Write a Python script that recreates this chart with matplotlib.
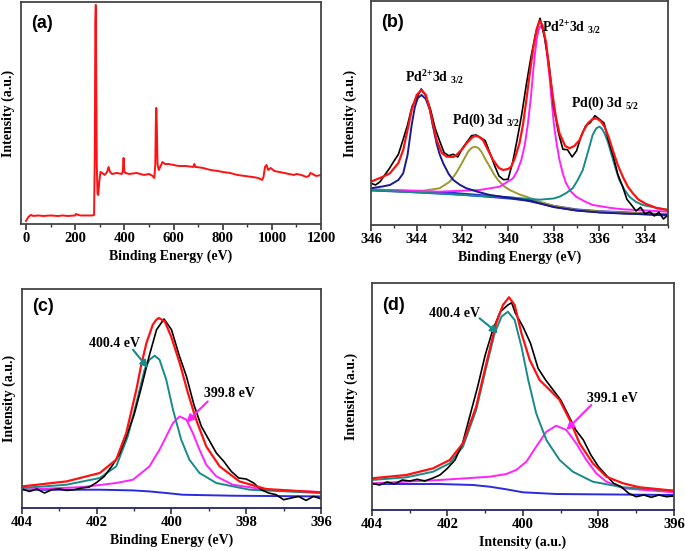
import matplotlib
matplotlib.use("Agg")
import matplotlib.pyplot as plt
from matplotlib.ticker import MultipleLocator

plt.rcParams['font.family'] = ['Liberation Serif', 'DejaVu Serif']
plt.rcParams['font.weight'] = 'bold'
plt.rcParams['mathtext.default'] = 'regular'

RED = '#ff1111'
TEAL = '#178a8a'
MAGENTA = '#ff22ff'
NAVY = '#1a1a8c'
BLUE = '#2a2ae0'
OLIVE = '#9a9a30'

# ---- (a) survey spectrum ----
survey_be = [0, 5, 10, 20, 30, 50, 70, 100, 130, 150, 170, 200, 203, 220, 250, 270,
             277, 280, 282, 284, 286, 288, 291, 294, 298, 303, 310, 320, 330, 336,
             342, 350, 370, 390, 394, 397, 400, 405, 420, 450, 480, 500, 515, 522,
             526, 528, 530, 532, 535, 540, 548, 555, 565, 580, 600, 620, 650, 680,
             685, 688, 692, 720, 750, 780, 800, 830, 860, 890, 920, 945, 960, 966,
             972, 978, 985, 995, 1000, 1010, 1030, 1050, 1070, 1090, 1100, 1120,
             1140, 1150, 1157, 1165, 1180, 1200]
survey_int = [3, 5, 7, 9, 8, 8.5, 8, 8.5, 8, 8.5, 8, 8.5, 10, 8.5, 8.5, 8.5,
              9, 70, 200, 219, 140, 60, 30, 29, 42, 52, 51, 49, 52, 57,
              52, 50, 51, 50, 53, 66, 52, 51, 50, 51, 49, 50, 48, 46,
              60, 100, 116, 100, 60, 54, 58, 62, 60, 60, 59, 58, 58, 57,
              60, 57, 57, 56, 54, 53, 52, 51, 49, 48, 47, 46, 44, 47,
              57, 59, 54, 56, 55, 53, 52, 51, 50, 49, 50, 49,
              47, 48, 51, 50, 48, 49]

# ---- (b) Pd 3d ----
pd_be = [346.0, 345.8, 345.6, 345.4, 345.2, 345.0, 344.8, 344.6, 344.4, 344.2, 344.0,
         343.8, 343.6, 343.4, 343.2, 343.0, 342.8, 342.6, 342.4, 342.2, 342.0, 341.8,
         341.6, 341.4, 341.2, 341.0, 340.8, 340.6, 340.4, 340.2, 340.0, 339.8, 339.6,
         339.4, 339.2, 339.0, 338.8, 338.6, 338.4, 338.2, 338.0, 337.8, 337.6, 337.4,
         337.2, 337.0, 336.8, 336.6, 336.4, 336.2, 336.0, 335.8, 335.6, 335.4, 335.2,
         335.0, 334.8, 334.6, 334.4, 334.2, 334.0, 333.8, 333.6, 333.4, 333.2, 333.0]
pd_raw = [41.7, 40.0, 43.3, 50.0, 56.3, 63.7, 70.7, 85.0, 100.0, 118.7, 127.3,
          136.0, 129.0, 116.0, 97.3, 84.3, 72.3, 69.3, 70.7, 68.0, 76.7, 83.0,
          89.3, 90.0, 87.3, 84.3, 72.3, 60.0, 49.0, 45.3, 45.7, 62.7, 85.7,
          111.0, 140.7, 167.7, 190.7, 206.7, 187.3, 159.3, 117.3, 92.7, 75.7, 75.3,
          68.0, 74.3, 89.0, 99.3, 102.3, 109.3, 105.7, 102.0, 84.0, 69.3, 50.7,
          39.3, 25.7, 20.0, 14.0, 17.7, 11.0, 13.3, 9.0, 12.7, 6.0, 10.0]

pd_env_be = [346.0, 345.5, 345.17, 344.8, 344.59, 344.4, 344.22, 344.0, 343.79, 343.6,
             343.42, 343.13, 342.9, 342.69, 342.4, 342.26, 342.0, 341.82, 341.6, 341.46,
             341.3, 341.1, 340.9, 340.66, 340.4, 340.22, 340.0, 339.86, 339.7, 339.5,
             339.35, 339.2, 339.05, 338.91, 338.75, 338.62, 338.5, 338.33, 338.2, 338.04,
             337.9, 337.75, 337.5, 337.31, 337.1, 336.87, 336.7, 336.51, 336.3, 336.14,
             335.95, 335.78, 335.6, 335.42, 335.2, 334.98, 334.75, 334.54, 334.3, 333.96,
             333.5, 333.0]
pd_env = [43.3, 48.0, 51.7, 62.0, 75.0, 95.0, 115.0, 130.0, 135.0, 130.0,
          115.0, 85.0, 72.0, 68.3, 68.0, 70.0, 76.0, 81.7, 87.0, 89.0,
          88.5, 85.0, 76.0, 65.0, 57.0, 55.0, 56.0, 58.3, 67.0, 81.7,
          100.0, 125.0, 152.0, 175.0, 196.0, 204.3, 200.0, 181.7, 155.0, 128.3,
          107.0, 91.7, 79.0, 76.7, 79.0, 85.0, 94.0, 101.7, 106.0, 106.7,
          104.0, 98.3, 88.0, 75.0, 60.0, 48.3, 38.0, 31.7, 25.5, 21.0,
          17.0, 15.0]

pd2_a_be = [346.0, 345.5, 345.17, 344.8, 344.59, 344.4, 344.22, 344.08, 343.95, 343.79,
            343.6, 343.42, 343.3, 343.13, 343.0, 342.84, 342.6, 342.4, 342.1, 341.82,
            341.3, 340.8, 339.8, 339.0, 338.5, 338.0, 337.0, 336.0, 335.0, 333.0]
pd2_a = [36.7, 38.5, 40.0, 45.0, 51.7, 70.0, 100.0, 118.0, 127.0, 130.0,
         126.0, 115.0, 100.0, 81.7, 71.0, 61.7, 51.0, 45.0, 40.0, 36.7,
         33.0, 30.0, 26.7, 24.0, 21.0, 18.0, 14.5, 12.5, 11.5, 10.0]

pd0_a_be = [346.0, 343.7, 343.0, 342.55, 342.3, 342.11, 341.9, 341.75, 341.6, 341.46,
            341.3, 341.17, 341.0, 340.8, 340.6, 340.44, 340.2, 339.93, 339.5, 339.2,
            338.62, 338.0, 337.0, 336.0, 333.0]
pd0_a = [35.0, 34.3, 36.7, 43.3, 51.0, 58.3, 67.0, 73.3, 77.0, 78.3,
         77.0, 73.3, 66.0, 58.3, 50.0, 45.0, 39.0, 35.0, 30.5, 28.3,
         23.3, 19.0, 15.0, 13.5, 10.5]

pd2_b_be = [346.0, 343.0, 341.24, 340.37, 339.78, 339.6, 339.42, 339.27, 339.13, 339.0,
            338.91, 338.82, 338.73, 338.65, 338.57, 338.48, 338.4, 338.3, 338.2, 338.1,
            338.0, 337.88, 337.75, 337.6, 337.46, 337.25, 337.02, 336.6, 336.29, 335.5,
            334.98, 333.0]
pd2_b = [35.0, 33.3, 35.0, 38.3, 46.7, 54.0, 65.0, 80.0, 101.7, 128.0,
         151.7, 172.0, 188.3, 196.0, 199.0, 196.0, 188.3, 172.0, 151.7, 126.0,
         101.7, 82.0, 65.0, 51.0, 41.7, 33.5, 28.3, 23.0, 20.0, 17.0,
         15.7, 13.3]

pd0_b_be = [346.0, 339.8, 338.62, 338.0, 337.75, 337.45, 337.17, 336.95, 336.73, 336.58,
            336.44, 336.3, 336.14, 336.0, 335.9, 335.78, 335.63, 335.49, 335.3, 335.13,
            334.9, 334.69, 334.4, 334.1, 333.5, 333.0]
pd0_b = [35.0, 27.3, 25.3, 26.5, 28.3, 32.0, 36.7, 45.0, 55.0, 67.0,
         78.3, 90.0, 96.7, 98.3, 96.5, 91.7, 83.0, 71.7, 57.0, 45.0,
         35.0, 28.3, 23.0, 20.0, 17.0, 15.0]

pd_bg_be = [346.0, 344.0, 342.5, 341.0, 339.8, 339.2, 338.6, 338.0, 337.0, 336.0, 334.5, 333.0]
pd_bg = [35.0, 33.3, 31.7, 29.0, 26.7, 25.0, 22.0, 18.5, 15.0, 13.3, 11.7, 10.0]

pd_labels = [r'Pd$^{2{+}}$3d $_{3/2}$', r'Pd(0) 3d $_{3/2}$',
             r'Pd$^{2{+}}$3d $_{3/2}$', r'Pd(0) 3d $_{5/2}$']
pd_label_be = [343.2, 340.98, 337.22, 335.74]
pd_label_y = [148, 105, 198, 122]

# ---- (c) N 1s ----
nc_be = [404.0, 403.8, 403.6, 403.4, 403.2, 403.0, 402.8, 402.6, 402.4, 402.2, 402.0,
         401.8, 401.6, 401.4, 401.2, 401.0, 400.8, 400.6, 400.4, 400.2, 400.0, 399.8,
         399.6, 399.4, 399.2, 399.0, 398.8, 398.6, 398.4, 398.2, 398.0, 397.8, 397.6,
         397.4, 397.2, 397.0, 396.8, 396.6, 396.4, 396.2, 396.0]
nc_raw = [19.0, 16.6, 19.0, 15.0, 18.3, 19.0, 17.6, 18.3, 20.0, 21.0, 25.6,
          31.6, 41.6, 53.3, 72.3, 93.3, 121.6, 151.6, 178.3, 189.0, 178.3, 153.3,
          131.6, 103.3, 81.6, 68.3, 55.0, 46.6, 36.6, 30.0, 29.0, 25.0, 18.3,
          15.0, 13.3, 8.3, 10.0, 11.6, 7.6, 11.6, 9.3]

nc_env_be = [404.0, 402.81, 401.92, 401.48, 401.21, 400.94, 400.81, 400.67, 400.5, 400.41,
             400.34, 400.18, 400.01, 399.78, 399.56, 399.34, 399.07, 398.71, 398.18,
             397.47, 396.0]
nc_env = [21.6, 26.6, 35.0, 48.3, 75.0, 118.3, 143.0, 165.0, 183.3, 188.0,
          190.0, 186.6, 171.6, 145.0, 115.0, 88.3, 61.6, 41.6, 26.6,
          19.0, 15.6]

nc_a_be = [404.0, 402.81, 401.92, 401.48, 401.17, 400.94, 400.72, 400.59, 400.45, 400.32,
           400.14, 399.96, 399.74, 399.52, 399.25, 398.8, 397.91, 396.0]
nc_a = [20.0, 23.3, 30.0, 41.6, 71.6, 105.0, 138.3, 148.3, 152.3, 148.3,
        128.3, 98.3, 68.3, 48.3, 35.0, 25.0, 18.3, 15.0]

nc_b_be = [404.0, 402.37, 401.48, 401.03, 400.59, 400.32, 400.14, 399.96, 399.78, 399.6,
           399.43, 399.25, 399.07, 398.8, 398.36, 397.47, 396.0]
nc_b = [18.3, 21.0, 25.0, 28.3, 41.6, 58.3, 71.6, 85.0, 91.6, 88.3,
        75.0, 58.3, 43.3, 31.6, 23.3, 18.3, 16.0]

nc_bg_be = [404.0, 401.92, 401.03, 400.59, 400.14, 399.7, 398.36, 396.0]
nc_bg = [18.3, 18.3, 17.6, 16.6, 15.0, 13.3, 12.3, 11.6]

# ---- (d) N 1s ----
nd_be = [404.0, 403.8, 403.6, 403.4, 403.2, 403.0, 402.8, 402.6, 402.4, 402.2, 402.0,
         401.8, 401.6, 401.4, 401.2, 401.0, 400.8, 400.6, 400.4, 400.3, 400.2, 400.0,
         399.8, 399.6, 399.4, 399.2, 399.0, 398.8, 398.6, 398.4, 398.2, 398.0, 397.8,
         397.6, 397.4, 397.2, 397.0, 396.8, 396.6, 396.4, 396.2, 396.0]
nd_raw = [26.7, 25.0, 28.0, 26.0, 30.0, 29.0, 30.7, 29.0, 31.7, 35.0, 41.7,
          50.0, 66.7, 95.0, 123.3, 155.0, 180.0, 198.3, 205.0, 207.3, 196.7, 183.3,
          166.7, 141.7, 130.0, 120.0, 110.0, 95.0, 80.0, 70.0, 55.0, 43.3, 35.0,
          26.7, 23.3, 16.7, 13.3, 15.0, 12.7, 15.0, 13.3, 14.0]

nd_env_be = [404.0, 403.09, 402.38, 401.94, 401.59, 401.24, 400.97, 400.71, 400.53, 400.37,
             400.22, 400.04, 399.82, 399.56, 399.29, 399.03, 398.76, 398.5, 398.15,
             397.79, 397.35, 396.91, 396.0]
nd_env = [31.7, 35.0, 41.7, 50.0, 66.7, 103.3, 146.7, 186.7, 205.0, 212.7,
          205.0, 176.7, 150.0, 130.0, 120.0, 110.0, 90.0, 66.7, 46.7,
          33.3, 26.7, 22.7, 19.3]

nd_a_be = [404.0, 403.09, 402.38, 401.94, 401.59, 401.24, 400.97, 400.75, 400.57, 400.4,
           400.22, 400.04, 399.86, 399.65, 399.38, 399.03, 398.68, 398.15, 397.35, 396.0]
nd_a = [30.0, 32.7, 38.3, 46.7, 63.3, 100.0, 143.3, 176.7, 193.3, 198.3,
        190.0, 163.3, 130.0, 96.7, 70.0, 50.0, 38.3, 28.3, 22.7, 19.3]

nd_b_be = [404.0, 402.21, 400.88, 400.44, 400.18, 399.91, 399.65, 399.38, 399.12, 398.85,
           398.59, 398.32, 398.06, 397.79, 397.35, 396.0]
nd_b = [26.7, 30.0, 33.3, 36.0, 40.0, 48.3, 63.3, 78.3, 84.3, 80.0,
        66.7, 50.0, 36.7, 28.3, 21.7, 17.7]

nd_bg_be = [404.0, 402.21, 401.32, 400.88, 400.44, 400.0, 399.12, 396.0]
nd_bg = [26.0, 26.0, 25.0, 23.3, 20.7, 17.7, 16.0, 15.0]

# peak labels for the N 1s panels: text, text position, arrow tail, arrow head
nc_peaks = ['400.4 eV', '399.8 eV']
nc_text_pos = [(401.52, 165), (398.45, 115)]
nc_arrow_tail = [(401.03, 158.3), (399.03, 106.6)]
nc_arrow_head = [(400.63, 140), (399.6, 85.6)]

nd_peaks = ['400.4 eV', '399.1 eV']
nd_text_pos = [(401.81, 196.7), (397.62, 111.7)]
nd_arrow_tail = [(401.15, 191.7), (398.19, 105)]
nd_arrow_head = [(400.66, 176.7), (398.85, 80)]


def style_axis(ax, xlim, ylim, major, minor, xlabel, tag, tag_y=0.94):
    ax.set_xlim(*xlim)
    ax.set_ylim(*ylim)
    ax.set_yticks([])
    ax.xaxis.set_major_locator(MultipleLocator(major))
    ax.xaxis.set_minor_locator(MultipleLocator(minor))
    ax.tick_params(axis='x', which='major', direction='out', length=4, width=1.2,
                   labelsize=10.5, pad=2, color='#333333')
    ax.tick_params(axis='x', which='minor', direction='out', length=2.5, width=1.0,
                   color='#333333')
    for lab in ax.get_xticklabels():
        lab.set_fontweight('bold')
    for sp in ax.spines.values():
        sp.set_color('#444444')
        sp.set_linewidth(1.3)
    ax.set_xlabel(xlabel, fontsize=10, fontweight='bold', labelpad=3)
    ax.set_ylabel('Intensity (a.u.)', fontsize=10, fontweight='bold', labelpad=4)
    ax.text(0.035, tag_y, tag, transform=ax.transAxes, fontsize=13, fontweight='bold',
            family='Liberation Sans', va='top', ha='left')


def label_peaks(ax, names, text_pos, tails, heads, colors):
    for name, tp, tail, head, col in zip(names, text_pos, tails, heads, colors):
        ax.text(tp[0], tp[1], name, fontsize=10, fontweight='bold',
                ha='center', va='center')
        ax.annotate('', xy=head, xytext=tail,
                    arrowprops=dict(arrowstyle='-|>', color=col, lw=1.5,
                                    mutation_scale=11, shrinkA=0, shrinkB=0))


fig = plt.figure(figsize=(6.85, 5.51), dpi=100)

# (a)
ax = fig.add_axes([0.0307, 0.5935, 0.438, 0.403])
ax.plot(survey_be, survey_int, color=RED, lw=1.4)
style_axis(ax, (-20, 1200), (0, 222), 200, 100, 'Binding Energy (eV)', '(a)')

# (b)
ax = fig.add_axes([0.5416, 0.5917, 0.4336, 0.4065])
ax.plot(pd_bg_be, pd_bg, color=BLUE, lw=2.2)
ax.plot(pd0_a_be, pd0_a, color=OLIVE, lw=1.4)
ax.plot(pd2_b_be, pd2_b, color=MAGENTA, lw=1.4)
ax.plot(pd0_b_be, pd0_b, color=TEAL, lw=1.4)
ax.plot(pd2_a_be, pd2_a, color=NAVY, lw=1.4)
ax.plot(pd_be, pd_raw, color='black', lw=1.2)
ax.plot(pd_env_be, pd_env, color=RED, lw=1.6)
for lab, xb, yb in zip(pd_labels, pd_label_be, pd_label_y):
    ax.text(xb, yb, lab, fontsize=10, fontweight='bold', ha='center', va='center')
style_axis(ax, (346, 333), (0, 224), 2, 1, 'Binding Energy (eV)', '(b)')
ax.yaxis.labelpad = 10

# (c)
ax = fig.add_axes([0.0321, 0.078, 0.4365, 0.3975])
ax.plot(nc_bg_be, nc_bg, color=BLUE, lw=1.4)
ax.plot(nc_b_be, nc_b, color=MAGENTA, lw=1.4)
ax.plot(nc_a_be, nc_a, color=TEAL, lw=1.4)
ax.plot(nc_be, nc_raw, color='black', lw=1.2)
ax.plot(nc_env_be, nc_env, color=RED, lw=1.6)
label_peaks(ax, nc_peaks, nc_text_pos, nc_arrow_tail, nc_arrow_head, [TEAL, MAGENTA])
style_axis(ax, (404, 396), (0, 219), 2, 1, 'Binding Energy (eV)', '(c)', tag_y=0.96)
ax.spines['bottom'].set_color('#22226a')

# (d)
ax = fig.add_axes([0.543, 0.0744, 0.4409, 0.412])
ax.plot(nd_bg_be, nd_bg, color=BLUE, lw=1.4)
ax.plot(nd_b_be, nd_b, color=MAGENTA, lw=1.4)
ax.plot(nd_a_be, nd_a, color=TEAL, lw=1.4)
ax.plot(nd_be, nd_raw, color='black', lw=1.2)
ax.plot(nd_env_be, nd_env, color=RED, lw=1.6)
label_peaks(ax, nd_peaks, nd_text_pos, nd_arrow_tail, nd_arrow_head, [TEAL, MAGENTA])
style_axis(ax, (404, 396), (0, 227), 2, 1, 'Intensity (a.u.)', '(d)')
ax.spines['bottom'].set_color('#22226a')
ax.yaxis.labelpad = 10

fig.savefig('out.png', dpi=100)
